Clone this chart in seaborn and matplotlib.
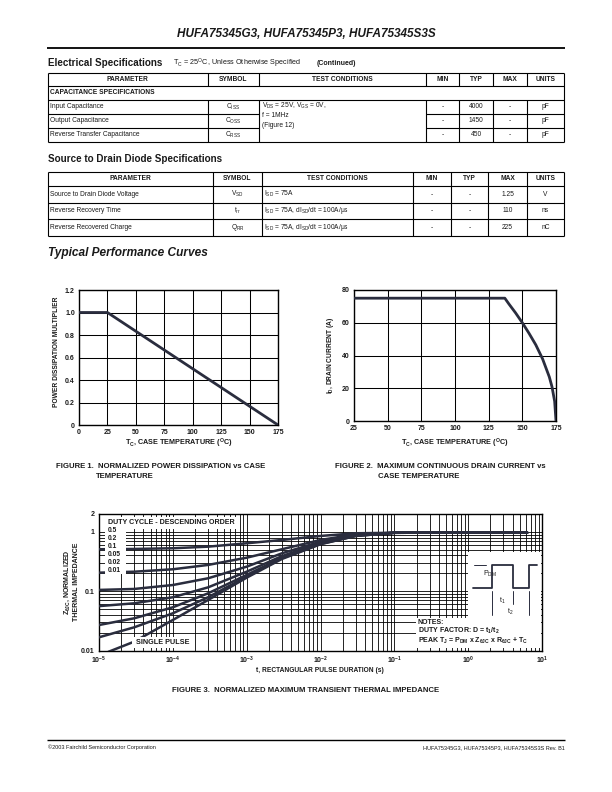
import numpy as np
import pandas as pd
import matplotlib
matplotlib.use("Agg")
import matplotlib.pyplot as plt
import seaborn as sns
from matplotlib.transforms import Affine2D
from matplotlib.patches import Rectangle, Polygon
from matplotlib.lines import Line2D
from matplotlib.ticker import LogLocator, NullFormatter, FixedLocator

# ---------------- data ----------------
page_title = "HUFA75345G3, HUFA75345P3, HUFA75345S3S"
tbl_headers = ["PARAMETER", "SYMBOL", "TEST CONDITIONS", "MIN", "TYP", "MAX", "UNITS"]

cap_params = ["Input Capacitance", "Output Capacitance", "Reverse Transfer Capacitance"]
cap_symbols = [r"C$_{ISS}$", r"C$_{OSS}$", r"C$_{RSS}$"]
cap_cond = [r"V$_{DS}$ = 25V, V$_{GS}$ = 0V,", "f = 1MHz", "(Figure 12)"]
cap_min = ["-", "-", "-"]
cap_typ = ["4000", "1450", "450"]
cap_max = ["-", "-", "-"]
cap_units = ["pF", "pF", "pF"]

diode_params = ["Source to Drain Diode Voltage", "Reverse Recovery Time", "Reverse Recovered Charge"]
diode_symbols = [r"V$_{SD}$", r"t$_{rr}$", r"Q$_{RR}$"]
diode_cond = [r"I$_{SD}$ = 75A", r"I$_{SD}$ = 75A, dI$_{SD}$/dt = 100A/μs", r"I$_{SD}$ = 75A, dI$_{SD}$/dt = 100A/μs"]
diode_min = ["-", "-", "-"]
diode_typ = ["-", "-", "-"]
diode_max = ["1.25", "110", "225"]
diode_units = ["V", "ns", "nC"]

fig1_temp = [0, 25, 175]
fig1_mult = [1.0, 1.0, 0.0]
fig1_xticks = [0, 25, 50, 75, 100, 125, 150, 175]
fig1_yticks = [0, 0.2, 0.4, 0.6, 0.8, 1.0, 1.2]
fig1_ylabels = ["0", "0.2", "0.4", "0.6", "0.8", "1.0", "1.2"]

fig2_temp = [25, 137, 140, 145, 150, 155, 160, 165, 170, 172, 174, 175]
fig2_curr = [75, 75, 71.5, 66, 60, 53.5, 46.5, 38, 27, 21, 12, 0]
fig2_xticks = [25, 50, 75, 100, 125, 150, 175]
fig2_yticks = [0, 20, 40, 60, 80]

z_time = [1e-5, 3e-5, 1e-4, 3e-4, 1e-3, 3e-3, 1e-2, 3e-2, 1e-1, 1.0, 6.3]
z_d050 = [0.509, 0.515, 0.529, 0.563, 0.642, 0.730, 0.853, 0.947, 0.965, 0.97, 0.97]
z_d020 = [0.205, 0.213, 0.234, 0.277, 0.367, 0.509, 0.730, 0.910, 0.965, 0.97, 0.97]
z_d010 = [0.105, 0.109, 0.127, 0.165, 0.259, 0.435, 0.684, 0.887, 0.965, 0.97, 0.97]
z_d005 = [0.056, 0.0625, 0.079, 0.116, 0.213, 0.390, 0.657, 0.877, 0.965, 0.97, 0.97]
z_d002 = [0.0269, 0.0349, 0.0535, 0.092, 0.188, 0.367, 0.642, 0.863, 0.965, 0.97, 0.97]
z_d001 = [0.0167, 0.0246, 0.0424, 0.079, 0.176, 0.359, 0.625, 0.853, 0.965, 0.97, 0.97]
sp_time = [1.34e-5, 3e-5, 1e-4, 3e-4, 1e-3, 3e-3, 1e-2, 3e-2, 1e-1, 1.0, 6.3]
sp_z = [0.0095, 0.0141, 0.0327, 0.071, 0.169, 0.349, 0.618, 0.853, 0.965, 0.97, 0.97]
duty_labels = ["0.5", "0.2", "0.1", "0.05", "0.02", "0.01"]
fig3_xticks = [1e-5, 1e-4, 1e-3, 1e-2, 1e-1, 1, 10]
fig3_xlabels = [r"10$^{-5}$", r"10$^{-4}$", r"10$^{-3}$", r"10$^{-2}$", r"10$^{-1}$", r"10$^{0}$", r"10$^{1}$"]
fig3_yticks = [0.01, 0.1, 1, 2]
fig3_ylabels = ["0.01", "0.1", "1", "2"]

# ---------------- style ----------------
sns.set_style("white")
plt.rcParams["font.family"] = ["Liberation Sans", "DejaVu Sans"]
plt.rcParams["mathtext.fontset"] = "custom"
plt.rcParams["mathtext.rm"] = "Liberation Sans"
plt.rcParams["mathtext.it"] = "Liberation Sans:italic"
plt.rcParams["mathtext.bf"] = "Liberation Sans:bold"
plt.rcParams["mathtext.default"] = "regular"

LC = "#2a2d3e"
TC = "#1a1a1a"
W, H = 612, 792
fig = plt.figure(figsize=(W / 100, H / 100), dpi=100)
fig.patch.set_facecolor("white")
PX = Affine2D().scale(1 / W, -1 / H).translate(0, 1) + fig.transFigure


def T(x, y, s, size=5, weight="normal", ha="left", va="center", style="normal", color=TC, **kw):
    return fig.text(x, y, s, transform=PX, fontsize=size, fontweight=weight, ha=ha, va=va,
                    fontstyle=style, color=color, **kw)


def L(x1, y1, x2, y2, lw=0.8, color="k"):
    fig.add_artist(Line2D([x1, x2], [y1, y2], transform=PX, lw=lw, color=color, solid_capstyle="butt"))


def axes_px(l, t, r, b):
    return fig.add_axes([l / W, 1 - b / H, (r - l) / W, (b - t) / H])


# ---------------- header ----------------
T(306, 34, page_title, size=8.5, weight="bold", style="italic", ha="center")
L(47, 48, 565, 48, lw=1.3)

T(48, 63, "Electrical Specifications", size=7.1, weight="bold")
T(173, 63.5, r"T$_C$ = 25$^O$C, Unless Otherwise Specified", size=5.2)
T(317, 63.5, "(Continued)", size=5.0, weight="bold")

# ---------------- table 1 ----------------
cols1 = [47.6, 208, 259, 425.7, 459.3, 493.3, 526.7, 564.3]
rows1 = [72.5, 86, 99.5, 113.5, 127.5, 142]
tlw = 0.8
for i, y in enumerate(rows1):
    if i in (3, 4):
        L(cols1[0], y, cols1[2], y, lw=tlw)
        L(cols1[3], y, cols1[-1], y, lw=tlw)
    else:
        L(cols1[0], y, cols1[-1], y, lw=tlw)
for j, x in enumerate(cols1):
    if j in (0, len(cols1) - 1):
        L(x, rows1[0], x, rows1[-1], lw=tlw)
    else:
        L(x, rows1[0], x, rows1[1], lw=tlw)
        L(x, rows1[2], x, rows1[-1], lw=tlw)
for j, h in enumerate(tbl_headers):
    T((cols1[j] + cols1[j + 1]) / 2, (rows1[0] + rows1[1]) / 2, h, size=4.8, weight="bold", ha="center")
T(cols1[0] + 2.5, (rows1[1] + rows1[2]) / 2, "CAPACITANCE SPECIFICATIONS", size=4.8, weight="bold")
for i in range(3):
    yc = (rows1[2 + i] + rows1[3 + i]) / 2
    T(cols1[0] + 2.5, yc, cap_params[i], size=4.8)
    T((cols1[1] + cols1[2]) / 2, yc, cap_symbols[i], size=4.8, ha="center")
    for j, v in enumerate([cap_min[i], cap_typ[i], cap_max[i], cap_units[i]]):
        T((cols1[3 + j] + cols1[4 + j]) / 2, yc, v, size=4.8, ha="center")
for k, s in enumerate(cap_cond):
    T(cols1[2] + 2.5, 106.3 + k * 9.6, s, size=4.8)

# ---------------- table 2 ----------------
T(48, 159, "Source to Drain Diode Specifications", size=7.1, weight="bold")
cols2 = [47.6, 213, 261.7, 413.3, 451, 488.3, 526.7, 564.3]
rows2 = [172, 186, 202.5, 219, 235.5]
for y in rows2:
    L(cols2[0], y, cols2[-1], y, lw=tlw)
for x in cols2:
    L(x, rows2[0], x, rows2[-1], lw=tlw)
for j, h in enumerate(tbl_headers):
    T((cols2[j] + cols2[j + 1]) / 2, (rows2[0] + rows2[1]) / 2, h, size=4.8, weight="bold", ha="center")
for i in range(3):
    yc = (rows2[1 + i] + rows2[2 + i]) / 2
    T(cols2[0] + 2.5, yc, diode_params[i], size=4.8)
    T((cols2[1] + cols2[2]) / 2, yc, diode_symbols[i], size=4.8, ha="center")
    T(cols2[2] + 2.5, yc, diode_cond[i], size=4.8)
    for j, v in enumerate([diode_min[i], diode_typ[i], diode_max[i], diode_units[i]]):
        T((cols2[3 + j] + cols2[4 + j]) / 2, yc, v, size=4.8, ha="center")

T(48, 253, "Typical Performance Curves", size=8.6, weight="bold", style="italic")


def style_axes(ax):
    for s in ax.spines.values():
        s.set_visible(True)
        s.set_color("k")
        s.set_linewidth(1.0)
    ax.tick_params(length=0, labelsize=5, pad=3, colors=TC)
    for lab in ax.get_xticklabels() + ax.get_yticklabels():
        lab.set_fontweight("bold")
    ax.set_xlabel("")
    ax.set_ylabel("")


# ---------------- figure 1 ----------------
ax1 = axes_px(79, 290, 278, 425)
sns.lineplot(x=fig1_temp, y=fig1_mult, ax=ax1, color=LC, lw=2.0, zorder=3)
ax1.set_xlim(0, 175)
ax1.set_ylim(0, 1.2)
ax1.set_xticks(fig1_xticks)
ax1.set_yticks(fig1_yticks)
ax1.set_yticklabels(fig1_ylabels)
ax1.grid(True, color="k", lw=0.75)
style_axes(ax1)
T(178.5, 443, r"T$_C$, CASE TEMPERATURE ($^O$C)", size=5.2, weight="bold", ha="center")
T(56, 352, "POWER DISSIPATION MULTIPLIER", size=4.8, weight="bold", ha="center", rotation=90)
T(56, 466, "FIGURE 1.  NORMALIZED POWER DISSIPATION vs CASE", size=5.6, weight="bold")
T(96, 477, "TEMPERATURE", size=5.6, weight="bold")

# ---------------- figure 2 ----------------
ax2 = axes_px(354, 290, 556, 421)
sns.lineplot(x=fig2_temp, y=fig2_curr, ax=ax2, color=LC, lw=2.0, zorder=3)
ax2.set_xlim(25, 175)
ax2.set_ylim(0, 80)
ax2.set_xticks(fig2_xticks)
ax2.set_yticks(fig2_yticks)
ax2.grid(True, color="k", lw=0.75)
style_axes(ax2)
T(455, 443, r"T$_C$, CASE TEMPERATURE ($^O$C)", size=5.2, weight="bold", ha="center")
T(331, 355, r"I$_D$, DRAIN CURRENT (A)", size=4.8, weight="bold", ha="center", rotation=90)
T(335, 466, "FIGURE 2.  MAXIMUM CONTINUOUS DRAIN CURRENT vs", size=5.6, weight="bold")
T(378, 477, "CASE TEMPERATURE", size=5.6, weight="bold")

# ---------------- figure 3 ----------------
ax3 = axes_px(99, 514, 542, 650.5)
series = [z_d050, z_d020, z_d010, z_d005, z_d002, z_d001]
frames = [pd.DataFrame({"t": z_time, "z": v, "duty": lab}) for lab, v in zip(duty_labels, series)]
frames.append(pd.DataFrame({"t": sp_time, "z": sp_z, "duty": "single"}))
df3 = pd.concat(frames, ignore_index=True)
sns.lineplot(data=df3, x="t", y="z", hue="duty", palette=[LC] * 7, lw=1.8, legend=False,
             ax=ax3, estimator=None, zorder=3)
ax3.set_xscale("log")
ax3.set_yscale("log")
ax3.set_xlim(1e-5, 10)
ax3.set_ylim(0.01, 2)
ax3.xaxis.set_major_locator(FixedLocator(fig3_xticks))
ax3.set_xticklabels(fig3_xlabels)
ax3.xaxis.set_minor_locator(LogLocator(base=10, subs=np.arange(2, 10), numticks=30))
ax3.xaxis.set_minor_formatter(NullFormatter())
ax3.yaxis.set_major_locator(FixedLocator(fig3_yticks))
ax3.set_yticklabels(fig3_ylabels)
ax3.yaxis.set_minor_locator(LogLocator(base=10, subs=np.arange(2, 10), numticks=30))
ax3.yaxis.set_minor_formatter(NullFormatter())
ax3.grid(True, which="both", color="k", lw=0.6)
style_axes(ax3)
ax3.tick_params(which="minor", length=0)

# white boxes over the grid
def WBOX(x0, y0, x1, y1):
    fig.add_artist(Rectangle((x0, y0), x1 - x0, y1 - y0, transform=PX, facecolor="white",
                             edgecolor="none", zorder=5))

WBOX(104.5, 517, 236, 529)
WBOX(104.5, 529, 125.5, 574)
WBOX(131.5, 636.5, 195, 648.3)
fig.add_artist(Polygon([(468, 551.5), (541, 551.5), (541, 648.3), (416, 648.3), (416, 618), (468, 618)],
                       closed=True, transform=PX, facecolor="white", edgecolor="none", zorder=5))

T(107.5, 523, "DUTY CYCLE - DESCENDING ORDER", size=5.1, weight="bold", zorder=6)
for k, lab in enumerate(duty_labels):
    T(108, 530.8 + k * 7.85, lab, size=4.8, weight="bold", zorder=6)
T(163, 642.5, "SINGLE PULSE", size=5.2, weight="bold", ha="center", zorder=6)

# pulse diagram
wave_x = [473.3, 492.3, 492.3, 512.7, 512.7, 528.9, 528.9, 536.7]
wave_y = [588.3, 588.3, 565, 565, 588.3, 588.3, 565, 565]
fig.add_artist(Line2D(wave_x, wave_y, transform=PX, lw=1.3, color=LC, zorder=7))
for (x1, y1, x2, y2) in [(492.3, 591, 492.3, 615), (512.7, 591, 512.7, 604), (528.9, 591, 528.9, 615)]:
    fig.add_artist(Line2D([x1, x2], [y1, y2], transform=PX, lw=0.7, color=LC, zorder=7))
fig.add_artist(Line2D([474, 486], [565, 565], transform=PX, lw=0.7, color=LC, zorder=7))

def ARROW(x1, y1, x2, y2):
    ax3.annotate("", xy=(x2, y2), xytext=(x1, y1), xycoords=PX, textcoords=PX,
                 arrowprops=dict(arrowstyle="-|>", lw=0.7, color=LC, mutation_scale=5,
                                 shrinkA=0, shrinkB=0), zorder=8, annotation_clip=False)

ARROW(480, 555, 480, 565)
ARROW(480, 598, 480, 588.3)
ARROW(480, 601, 492.3, 601)
ARROW(534, 601, 512.7, 601)
ARROW(476, 611, 492.3, 611)
ARROW(539, 611, 528.9, 611)
T(483, 573.5, r"P$_{DM}$", size=5.0, zorder=8)
T(502.5, 600.5, r"t$_1$", size=5.0, ha="center", zorder=8)
T(510.5, 612, r"t$_2$", size=5.0, ha="center", zorder=8)
T(418, 622, "NOTES:", size=5.0, weight="bold", zorder=8)
T(418, 631, r"DUTY FACTOR: D = t$_1$/t$_2$", size=5.0, weight="bold", zorder=8)
T(418, 641, r"PEAK T$_J$ = P$_{DM}$ x Z$_{θJC}$ x R$_{θJC}$ + T$_C$", size=5.0, weight="bold", zorder=8)

T(71.5, 582, "Z$_{θJC}$, NORMALIZED\nTHERMAL IMPEDANCE", size=5.0, weight="bold", ha="center",
  rotation=90, multialignment="center")
T(320, 670, "t, RECTANGULAR PULSE DURATION (s)", size=4.8, weight="bold", ha="center")
T(306, 691, "FIGURE 3.  NORMALIZED MAXIMUM TRANSIENT THERMAL IMPEDANCE", size=5.6, weight="bold", ha="center")

# ---------------- footer ----------------
L(47, 740, 565, 740, lw=1.0)
T(48, 747.5, "©2003 Fairchild Semiconductor Corporation", size=4.0)
T(565, 747.5, "HUFA75345G3, HUFA75345P3, HUFA75345S3S Rev. B1", size=4.0, ha="right")

fig.savefig("out.png", dpi=100, facecolor="white")
